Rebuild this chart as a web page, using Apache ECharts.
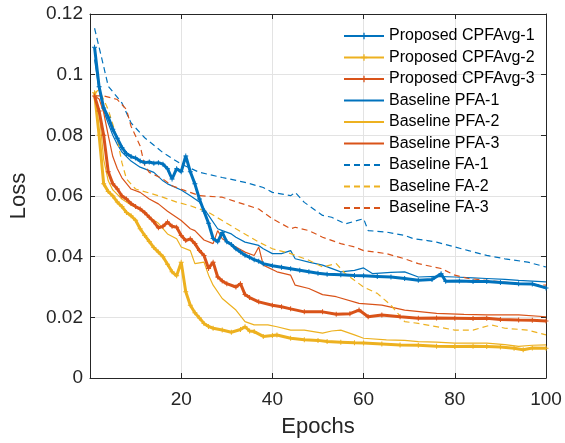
<!DOCTYPE html>
<html>
<head>
<meta charset="utf-8">
<script src="https://cdn.jsdelivr.net/npm/echarts@6/dist/echarts.min.js"></script>
<style>
  html, body { margin: 0; padding: 0; background: #fff; }
  #main { width: 565px; height: 443px; }
</style>
</head>
<body>
<div id="main"></div>
<script>
// [epoch, loss]
var cpfa1 = [[1,0.109],[2,0.096],[3,0.089],[4,0.086],[5,0.082],[6,0.079],[7,0.076],[8,0.074],[9,0.073],[10,0.0725],
  [11,0.0715],[12,0.071],[13,0.0712],[14,0.0708],[15,0.071],[16,0.0705],[17,0.069],[18,0.0656],[19,0.069],[20,0.068],
  [21,0.0732],[22,0.068],[23,0.064],[24,0.059],[25,0.055],[26,0.051],[27,0.046],[28,0.0449],[29,0.048],[30,0.0449],
  [31,0.044],[32,0.0426],[33,0.0415],[34,0.0405],[35,0.0398],[36,0.039],[37,0.0385],[38,0.0377],[40,0.037],[42,0.0365],
  [44,0.036],[46,0.0355],[48,0.035],[50,0.0345],[52,0.0342],[55,0.034],[58,0.0338],[60,0.0337],[63,0.0335],[66,0.0333],
  [69,0.0328],[72,0.0322],[75,0.0325],[77,0.0344],[78,0.0319],[81,0.032],[84,0.0318],[87,0.0318],[90,0.0315],[94,0.0311],
  [97,0.031],[100,0.0297]];
var cpfa2 = [[1,0.094],[2,0.080],[3,0.064],[4,0.0615],[5,0.060],[6,0.058],[7,0.0565],[8,0.0546],[9,0.0535],[10,0.052],
  [11,0.0492],[12,0.047],[13,0.045],[14,0.043],[15,0.0415],[16,0.040],[17,0.0375],[18,0.035],[19,0.0337],[20,0.0382],
  [21,0.0284],[22,0.024],[23,0.0215],[24,0.0198],[25,0.018],[26,0.017],[27,0.0164],[29,0.0158],[31,0.0151],[33,0.016],
  [34,0.0169],[35,0.0155],[36,0.0153],[38,0.0137],[40,0.014],[41,0.0142],[44,0.0131],[47,0.0126],[50,0.0124],[52,0.012],
  [55,0.0118],[58,0.0116],[60,0.0115],[64,0.0112],[68,0.0109],[72,0.0108],[76,0.0105],[80,0.0104],[84,0.0105],[87,0.0104],
  [90,0.0102],[93,0.0098],[95,0.0093],[97,0.0099],[100,0.0098]];
var cpfa3 = [[1,0.093],[2,0.088],[3,0.080],[4,0.068],[5,0.064],[6,0.0623],[7,0.060],[8,0.059],[9,0.0575],[10,0.0565],
  [11,0.0557],[12,0.0545],[13,0.053],[14,0.0515],[15,0.0495],[16,0.050],[17,0.0514],[18,0.050],[19,0.0497],[20,0.047],
  [21,0.0453],[22,0.0459],[23,0.0443],[24,0.042],[25,0.0404],[26,0.0361],[27,0.0382],[28,0.0333],[29,0.032],[30,0.0311],
  [32,0.030],[33,0.0311],[34,0.0275],[35,0.0265],[37,0.0251],[40,0.024],[42,0.0235],[44,0.0228],[47,0.0218],[51,0.0218],
  [54,0.021],[57,0.0212],[59,0.0224],[61,0.0202],[64,0.0208],[68,0.0202],[72,0.0197],[76,0.0198],[80,0.0197],[84,0.0196],
  [87,0.0197],[90,0.0193],[94,0.0191],[97,0.019],[100,0.0188]];
var pfa1 = [[1,0.105],[2,0.095],[3,0.088],[4,0.084],[5,0.080],[6,0.077],[7,0.0745],[9,0.0715],[11,0.0695],[14,0.0678],
  [16,0.065],[17,0.064],[20,0.062],[22,0.0601],[24,0.058],[26,0.0536],[28,0.0492],[29,0.0486],[31,0.0475],[32,0.0464],
  [34,0.0448],[37,0.0437],[38,0.0426],[40,0.041],[42,0.041],[44,0.042],[45,0.0393],[48,0.0382],[51,0.0372],[55,0.035],
  [58,0.0355],[60,0.0363],[62,0.0344],[66,0.0348],[69,0.035],[72,0.0333],[76,0.0335],[80,0.0333],[84,0.033],[87,0.0328],
  [91,0.0325],[94,0.0322],[100,0.0317]];
var pfa2 = [[1,0.093],[2,0.088],[3,0.072],[4,0.065],[5,0.062],[7,0.059],[9,0.057],[11,0.0557],[13,0.053],[15,0.051],
  [17,0.0475],[19,0.0459],[20,0.0432],[22,0.042],[23,0.0377],[25,0.0382],[26,0.0339],[27,0.0306],[29,0.0262],[32,0.0224],
  [34,0.0186],[36,0.0175],[39,0.0175],[41,0.0169],[44,0.0158],[47,0.0158],[51,0.0148],[53,0.0155],[55,0.0158],[58,0.0142],
  [60,0.0131],[65,0.0126],[69,0.0124],[72,0.012],[76,0.0118],[80,0.0115],[87,0.0115],[91,0.011],[94,0.0104],[97,0.0108],
  [100,0.0109]];
var pfa3 = [[1,0.093],[2,0.092],[3,0.0875],[4,0.080],[5,0.073],[6,0.069],[7,0.066],[9,0.0623],[11,0.0612],[13,0.059],
  [15,0.0574],[17,0.055],[20,0.0519],[22,0.0492],[23,0.0486],[25,0.0455],[27,0.0443],[28,0.0486],[29,0.0459],[32,0.0432],
  [34,0.0415],[36,0.0404],[37,0.0432],[38,0.0372],[41,0.035],[44,0.0339],[45,0.0306],[48,0.0295],[51,0.0275],[54,0.0268],
  [59,0.0246],[64,0.024],[69,0.0224],[76,0.0213],[82,0.021],[87,0.0208],[94,0.0208],[100,0.0202]];
var fa1 = [[1,0.1153],[3,0.1027],[4,0.0962],[7,0.0907],[9,0.0841],[12,0.0792],[16,0.0743],[20,0.0705],[24,0.0678],[29,0.0661],
  [34,0.0645],[38,0.0628],[40,0.0612],[44,0.0601],[45,0.0612],[47,0.0579],[51,0.0536],[53,0.053],[56,0.0508],[60,0.0525],
  [61,0.0486],[65,0.0481],[69,0.047],[71,0.0459],[74,0.0453],[76,0.0448],[80,0.0432],[83,0.042],[87,0.0404],[91,0.0393],
  [96,0.0382],[100,0.0366]];
var fa2 = [[1,0.094],[2,0.095],[4,0.0885],[6,0.0787],[7,0.071],[8,0.0656],[10,0.0623],[15,0.0601],[19,0.058],[22,0.0568],
  [26,0.0546],[29,0.0519],[32,0.0492],[37,0.0448],[40,0.0426],[44,0.041],[48,0.0388],[51,0.0366],[54,0.0377],[56,0.0344],
  [60,0.030],[63,0.0279],[66,0.024],[69,0.0186],[72,0.018],[80,0.0158],[84,0.0158],[88,0.0175],[91,0.0164],[96,0.0158],
  [100,0.0142]];
var fa3 = [[1,0.093],[3,0.093],[6,0.0918],[8,0.0885],[9,0.083],[11,0.0765],[12,0.070],[13,0.0678],[16,0.0656],[18,0.0634],
  [21,0.0617],[24,0.0601],[29,0.0596],[37,0.0557],[40,0.0525],[44,0.0492],[45,0.0497],[48,0.0486],[51,0.0464],[55,0.0443],
  [58,0.0432],[60,0.042],[65,0.041],[69,0.0393],[72,0.0377],[77,0.0361],[80,0.0339],[83,0.0328],[87,0.0322],[94,0.0311],
  [100,0.0306]];

var names = ['Proposed CPFAvg-1','Proposed CPFAvg-2','Proposed CPFAvg-3',
             'Baseline PFA-1','Baseline PFA-2','Baseline PFA-3',
             'Baseline FA-1','Baseline FA-2','Baseline FA-3'];
var xTicks = [20, 40, 60, 80, 100];
var yTicks = [0, 0.02, 0.04, 0.06, 0.08, 0.1, 0.12];

var BLUE = '#0072BD', YEL = '#EDB120', ORA = '#D95319';
var plus = 'path://M4,0H6V4H10V6H6V10H4V6H0V4H4Z';
var font = 'Liberation Sans, Arial, Helvetica, sans-serif';
var axisCol = '#262626';

function thick(name, data, color) {
  return { name: name, type: 'line', data: data, color: color,
    symbol: plus, symbolSize: 5, showSymbol: true, showAllSymbol: true,
    lineStyle: { width: 3, color: color }, itemStyle: { color: color }, z: 5 };
}
function thin(name, data, color, dashed) {
  return { name: name, type: 'line', data: data, color: color, symbol: 'none',
    lineStyle: { width: 1.2, color: color, type: dashed ? [6, 4] : 'solid' }, z: 3 };
}

// legend entries: baselines have no marker
var legendData = names.map(function (n, i) {
  return i < 3 ? { name: n } : { name: n, itemStyle: { opacity: 0 } };
});

var xBase = { type: 'value', min: 0, max: 100, interval: 20, gridIndex: 0,
  axisLine: { show: true, onZero: false, lineStyle: { color: axisCol, width: 1 } },
  axisTick: { show: true, inside: true, length: 5, lineStyle: { color: axisCol } } };
var yBase = { type: 'value', min: 0, max: 0.12, interval: 0.02, gridIndex: 0,
  axisLine: { show: true, onZero: false, lineStyle: { color: axisCol, width: 1 } },
  axisTick: { show: true, inside: true, length: 5, lineStyle: { color: axisCol } } };

var option = {
  animation: false,
  backgroundColor: '#fff',
  textStyle: { fontFamily: font },
  grid: { left: 90, right: 19, top: 14, bottom: 63, containLabel: false },
  legend: {
    data: legendData, orient: 'vertical', left: 338, top: 23,
    itemWidth: 40, itemHeight: 8, itemGap: 5.5,
    textStyle: { fontSize: 16, color: '#000', fontFamily: font, lineHeight: 16 },
    backgroundColor: 'transparent', borderWidth: 0
  },
  xAxis: [
    Object.assign({}, xBase, { position: 'bottom',
      name: 'Epochs', nameLocation: 'middle', nameGap: 38,
      nameTextStyle: { fontSize: 22, color: axisCol, fontFamily: font },
      axisLabel: { show: true, margin: 12, fontSize: 19, color: axisCol, fontFamily: font, showMinLabel: false,
        formatter: function (v) { return xTicks.indexOf(v) >= 0 ? String(v) : ''; } },
      splitLine: { show: true, lineStyle: { color: '#e3e3e3', width: 1 } } }),
    Object.assign({}, xBase, { position: 'top', axisLabel: { show: false }, splitLine: { show: false } })
  ],
  yAxis: [
    Object.assign({}, yBase, { position: 'left',
      name: 'Loss', nameLocation: 'middle', nameGap: 60,
      nameTextStyle: { fontSize: 22, color: axisCol, fontFamily: font },
      axisLabel: { show: true, margin: 7, fontSize: 19, color: axisCol, fontFamily: font,
        formatter: function (v) { return yTicks.some(function (t) { return Math.abs(t - v) < 1e-9; }) ? String(parseFloat(v.toFixed(2))) : ''; } },
      splitLine: { show: true, lineStyle: { color: '#e3e3e3', width: 1 } } }),
    Object.assign({}, yBase, { position: 'right', axisLabel: { show: false }, splitLine: { show: false } })
  ],
  series: [
    thick(names[0], cpfa1, BLUE),
    thick(names[1], cpfa2, YEL),
    thick(names[2], cpfa3, ORA),
    thin(names[3], pfa1, BLUE, false),
    thin(names[4], pfa2, YEL, false),
    thin(names[5], pfa3, ORA, false),
    thin(names[6], fa1, BLUE, true),
    thin(names[7], fa2, YEL, true),
    thin(names[8], fa3, ORA, true)
  ]
};

echarts.init(document.getElementById('main')).setOption(option);
</script>
</body>
</html>
